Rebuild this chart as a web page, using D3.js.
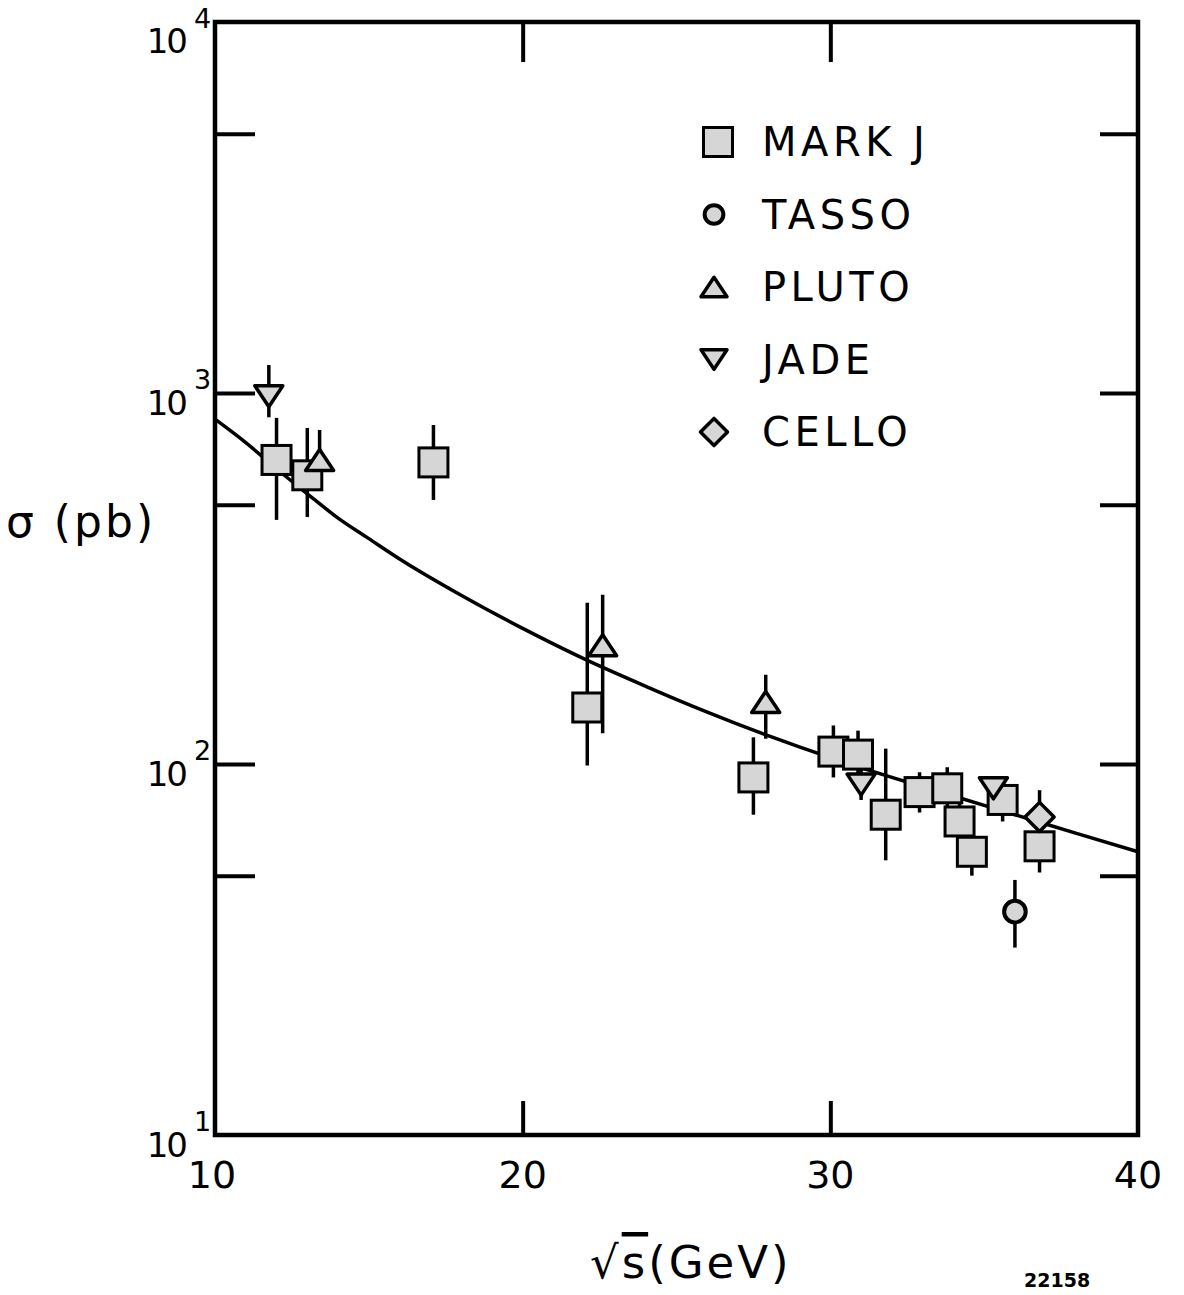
<!DOCTYPE html>
<html><head><meta charset="utf-8">
<script src="https://cdn.jsdelivr.net/npm/d3@7/dist/d3.min.js"></script>
<style>html,body{margin:0;padding:0;background:#fff;} svg{display:block;}</style>
</head><body>
<svg id="c" width="1184" height="1295"></svg>
<script>
// ---- data ----
const markJ_E   = [12.0, 13.0, 17.1, 22.1, 27.5, 30.1, 30.9, 31.8, 32.9, 33.8, 34.2, 34.6, 35.6, 36.8];
const markJ_S   = [660, 600, 650, 142, 92, 108, 106, 73, 84, 86, 70, 58, 80, 60];
const markJ_lo  = [455, 463, 515, 99, 73, 92, 92, 55, 74, 76, 62, 50, 70, 51];
const markJ_hi  = [857, 805, 820, 272, 118, 127, 123, 110, 95, 98, 79, 67, 90, 70];

const tasso_E  = [36.0];
const tasso_S  = [40];
const tasso_lo = [32];
const tasso_hi = [48.7];

const pluto_E  = [13.4, 22.6, 27.9];
const pluto_S  = [660, 209, 147];
const pluto_lo = [560, 121, 117];
const pluto_hi = [795, 286, 174];

const jade_E  = [11.75, 31.0, 35.3];
const jade_S  = [980, 88, 86];
const jade_lo = [860, 80, 80];
const jade_hi = [1190, 100, 92];

const cello_E  = [36.8];
const cello_S  = [72];
const cello_lo = [62];
const cello_hi = [85];

const curve_E = [10, 11, 12, 13, 14, 15, 16, 18, 20, 22, 24, 26, 28, 30, 32, 34, 36, 38, 40];
const curve_S = [850, 735, 625, 535, 460, 405, 357, 285, 232, 192, 162, 138, 119, 104, 92, 82, 73, 65, 58];

const xTickLabels = [10, 20, 30, 40];
const yDecades = [1, 2, 3, 4];
const yMinorTicks = [5000, 1000, 500, 100, 50];
const xInnerTicks = [20, 30];
const legendNames = ["MARK J", "TASSO", "PLUTO", "JADE", "CELLO"];
const legendKinds = ["square", "circle", "up", "down", "diamond"];

// ---- drawing ----
const svg = d3.select("#c");
const FONT = "DejaVu Sans, sans-serif";
const x = d3.scaleLinear().domain([10, 40]).range([215, 1138]);
const y = d3.scaleLog().domain([10, 10000]).range([1135, 22]);

svg.append("rect").attr("width", 1184).attr("height", 1295).attr("fill", "#fff");

// ticks via axes
function styleAxis(g){
  g.select(".domain").remove();
  g.selectAll(".tick line").attr("stroke", "#000").attr("stroke-width", 4);
  g.selectAll(".tick text").remove();
}
svg.append("g").attr("transform", `translate(${x(10)},0)`)
  .call(d3.axisLeft(y).tickValues(yMinorTicks).tickSizeInner(-40).tickSizeOuter(0).tickFormat(""))
  .call(styleAxis);
svg.append("g").attr("transform", `translate(${x(40)},0)`)
  .call(d3.axisRight(y).tickValues(yMinorTicks).tickSizeInner(-38).tickSizeOuter(0).tickFormat(""))
  .call(styleAxis);
svg.append("g").attr("transform", `translate(0,${y(10000)})`)
  .call(d3.axisTop(x).tickValues(xInnerTicks).tickSizeInner(-40).tickSizeOuter(0).tickFormat(""))
  .call(styleAxis);
svg.append("g").attr("transform", `translate(0,${y(10)})`)
  .call(d3.axisBottom(x).tickValues(xInnerTicks).tickSizeInner(-34).tickSizeOuter(0).tickFormat(""))
  .call(styleAxis);

// frame
svg.append("rect")
  .attr("x", x(10)).attr("y", y(10000))
  .attr("width", x(40) - x(10)).attr("height", y(10) - y(10000))
  .attr("fill", "none").attr("stroke", "#000").attr("stroke-width", 4.5);

// y labels
yDecades.forEach(p => {
  svg.append("text").attr("x", 186).attr("y", y(Math.pow(10, p)) + (p === 4 ? 31 : 22))
    .attr("text-anchor", "end").attr("font-family", FONT).attr("font-size", 34)
    .attr("letter-spacing", -2).attr("fill", "#000").text("10");
  svg.append("text").attr("x", 194).attr("y", y(Math.pow(10, p)) + (p === 4 ? 6 : -4))
    .attr("font-family", FONT).attr("font-size", 27).attr("fill", "#000").text(String(p));
});

// x labels
xTickLabels.forEach(v => {
  svg.append("text").attr("x", x(v) - (v === 10 ? 3 : 0)).attr("y", 1188)
    .attr("text-anchor", "middle").attr("font-family", FONT).attr("font-size", 38).attr("fill", "#000")
    .text(String(v));
});

// axis titles
svg.append("text").attr("x", 6).attr("y", 537).attr("font-family", FONT).attr("font-size", 44)
  .attr("letter-spacing", 3).attr("fill", "#000").text("σ (pb)");
const xt = svg.append("text").attr("x", 590).attr("y", 1278).attr("font-family", FONT).attr("font-size", 45)
  .attr("letter-spacing", 3).attr("fill", "#000");
xt.append("tspan").text("√");
xt.append("tspan").attr("text-decoration", "overline").style("text-decoration", "overline").text("s");
xt.append("tspan").text("(GeV)");

// small reference number at bottom
svg.append("text").attr("x", 1024).attr("y", 1287).attr("font-family", FONT).attr("font-size", 19)
  .attr("font-weight", "bold").attr("fill", "#000").text("22158");

// curve
const line = d3.line().x((d, i) => x(curve_E[i])).y((d, i) => y(curve_S[i])).curve(d3.curveMonotoneX);
svg.append("path").datum(curve_S).attr("d", line)
  .attr("fill", "none").attr("stroke", "#000").attr("stroke-width", 3.5);

// symbols
const FILL = "#d6d6d6";
function symbol(g, kind, cx, cy, s) {
  if (kind === "square") {
    g.append("rect").attr("x", cx - s/2).attr("y", cy - s/2).attr("width", s).attr("height", s)
      .attr("fill", FILL).attr("stroke", "#000").attr("stroke-width", 3);
  } else if (kind === "circle") {
    g.append("circle").attr("cx", cx).attr("cy", cy).attr("r", s * 0.36)
      .attr("fill", FILL).attr("stroke", "#000").attr("stroke-width", 4);
  } else if (kind === "up") {
    const w = s, h = s * 0.75;
    g.append("path").attr("d", `M${cx - w/2},${cy + h/2}L${cx + w/2},${cy + h/2}L${cx},${cy - h/2}Z`)
      .attr("fill", FILL).attr("stroke", "#000").attr("stroke-width", 3.5).attr("stroke-linejoin", "round");
  } else if (kind === "down") {
    const w = s, h = s * 0.75;
    g.append("path").attr("d", `M${cx - w/2},${cy - h/2}L${cx + w/2},${cy - h/2}L${cx},${cy + h/2}Z`)
      .attr("fill", FILL).attr("stroke", "#000").attr("stroke-width", 3.5).attr("stroke-linejoin", "round");
  } else if (kind === "diamond") {
    const r = s * 0.52;
    g.append("path").attr("d", `M${cx},${cy - r}L${cx + r},${cy}L${cx},${cy + r}L${cx - r},${cy}Z`)
      .attr("fill", FILL).attr("stroke", "#000").attr("stroke-width", 3.5).attr("stroke-linejoin", "round");
  }
}

const sets = [
  {E: markJ_E, S: markJ_S, lo: markJ_lo, hi: markJ_hi, kind: "square", size: 29},
  {E: pluto_E, S: pluto_S, lo: pluto_lo, hi: pluto_hi, kind: "up", size: 28},
  {E: jade_E, S: jade_S, lo: jade_lo, hi: jade_hi, kind: "down", size: 28},
  {E: cello_E, S: cello_S, lo: cello_lo, hi: cello_hi, kind: "diamond", size: 28},
  {E: tasso_E, S: tasso_S, lo: tasso_lo, hi: tasso_hi, kind: "circle", size: 30},
];
const eb = svg.append("g");
sets.forEach(st => {
  st.E.forEach((e, i) => {
    eb.append("line").attr("x1", x(e)).attr("x2", x(e)).attr("y1", y(st.lo[i])).attr("y2", y(st.hi[i]))
      .attr("stroke", "#000").attr("stroke-width", 3.5);
  });
});
const mk = svg.append("g");
sets.forEach(st => {
  st.E.forEach((e, i) => symbol(mk, st.kind, x(e), y(st.S[i]), st.size));
});

// legend
const lg = svg.append("g");
legendNames.forEach((n, i) => {
  const cy = 142 + i * 72.5;
  symbol(lg, legendKinds[i], legendKinds[i] === "square" ? 718 : 714, cy, legendKinds[i] === "square" ? 29 : 26);
  lg.append("text").attr("x", 762).attr("y", cy + 14).attr("font-family", FONT).attr("font-size", 40)
    .attr("letter-spacing", 4.5).attr("fill", "#000").text(n);
});
</script>
</body></html>
